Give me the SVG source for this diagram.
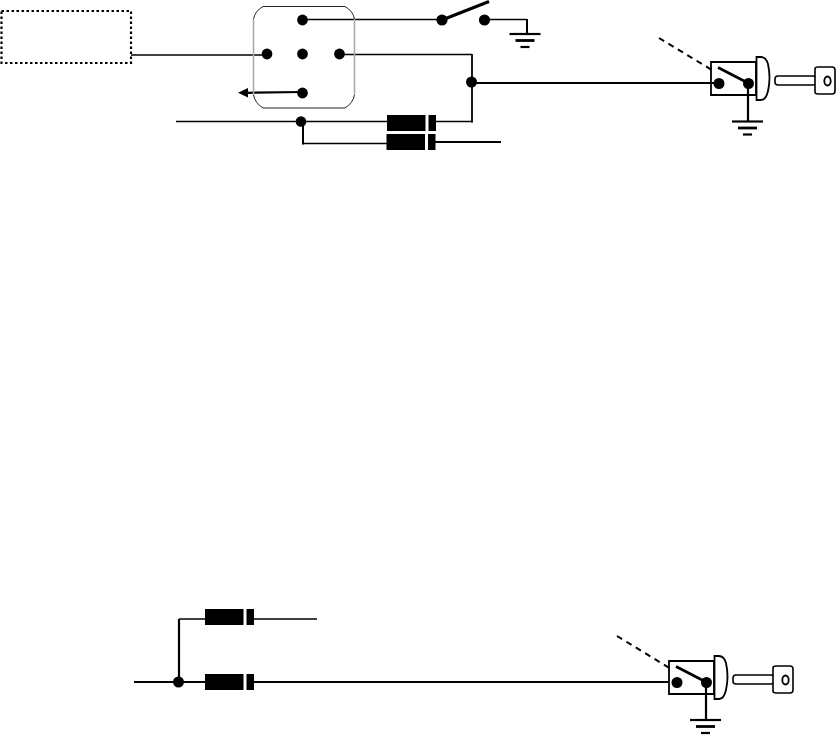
<svg xmlns="http://www.w3.org/2000/svg" width="836" height="735" viewBox="0 0 836 735">
<style>
.w{fill:none;stroke:#000;stroke-width:1.500}
.t{fill:none;stroke:#000;stroke-width:2.200}
.d{fill:#000}
.dash{fill:none;stroke:#000;stroke-width:2;stroke-dasharray:6 5}
.key{fill:#fff;stroke:#000;stroke-width:1.600}
</style>
<defs>
<g id="ground">
<path d="M-15.500 0H15.500" fill="none" stroke="#000" stroke-width="2.200"/>
<path d="M-9.500 6.500H9.500" fill="none" stroke="#000" stroke-width="2.800"/>
<path d="M-4.500 13H4.500" fill="none" stroke="#000" stroke-width="2.200"/>
</g>
<g id="diode">
<rect x="0" y="0" width="49" height="16" fill="#000"/>
<rect x="38.500" y="-0.500" width="3" height="17" fill="#fff"/>
</g>
<g id="lock">
<path d="M0 0H45V33H0Z" fill="none" stroke="#000" stroke-width="1.800"/>
<path d="M7 5.500L37 21" fill="none" stroke="#000" stroke-width="2.600"/>
<circle class="d" cx="8" cy="21.500" r="5.500"/>
<circle class="d" cx="37.500" cy="21.500" r="5.500"/>
<path d="M45.500 -5H50Q55 -5 57 2Q60 16 57 29Q55 38 50 38H45.500Z" fill="#fff" stroke="#000" stroke-width="1.800"/>
<rect class="key" x="64" y="14" width="41" height="9" rx="3"/>
<path class="key" d="M104 7Q104 5 107 5H121Q124 5 124 8V29Q124 32 121 32H107Q104 32 104 30Z"/>
<ellipse cx="116.500" cy="19" rx="3.200" ry="4.500" fill="#fff" stroke="#000" stroke-width="1.800"/>
</g>
</defs>

<g id="connectors">
<path class="w" d="M131 55H267"/>
<path class="w" d="M302 19.500H442"/>
<path class="w" d="M339 54.500H472"/>
<path d="M472 54V122.500" fill="none" stroke="#000" stroke-width="1.800"/>
<path class="w" d="M176 121.500H388"/>
<path class="w" d="M303 143.500H388"/>
<path d="M303 122V144.500" fill="none" stroke="#000" stroke-width="2"/>
<path class="w" d="M435 121.500H472.500"/>
<path class="t" d="M435 142H501" style="stroke-width:1.800"/>
<path class="t" d="M472 83H720"/>
<path class="w" d="M485 19.500H527"/>
<path class="t" d="M527 19V34" style="stroke-width:2"/>
<path d="M442 20L489 1.500" fill="none" stroke="#000" stroke-width="3"/>
<path class="t" d="M302 92L246 92.800"/>
<path class="d" d="M238 92.800L248 88V97.500Z"/>
<path class="t" d="M748 84V121"/>
<path class="dash" d="M659 38L712 70"/>

<path class="t" d="M134 682H668"/>
<path class="t" d="M179 682V619"/>
<path class="w" d="M179 619H206"/>
<path class="w" d="M250 619H317"/>
<path class="t" d="M706 684V719"/>
<path class="dash" d="M617 636L671 669"/>
</g>

<g id="dotted-box">
<rect x="1.500" y="11" width="129.500" height="52" fill="none" stroke="#000" stroke-width="2.200" stroke-dasharray="2.500 2.500"/>
</g>
<g id="relay">
<path d="M253.500 19V95M354.500 19V95" fill="none" stroke="#aaa" stroke-width="1.600"/>
<path d="M253.500 19Q255 11 263 6.500H345Q353 11 354.500 19M354.500 95Q353 103 345 108H263Q255 103 253.500 95" fill="none" stroke="#222" stroke-width="1"/>
<circle class="d" cx="302.500" cy="20" r="5.400"/>
<circle class="d" cx="267" cy="54" r="5.400"/>
<circle class="d" cx="302.500" cy="54" r="5.400"/>
<circle class="d" cx="339.500" cy="54" r="5.400"/>
<circle class="d" cx="302.500" cy="93" r="5.400"/>
</g>
<g id="junction-top-left"><circle class="d" cx="301" cy="121.500" r="5.300"/></g>
<g id="junction-top-right"><circle class="d" cx="471.500" cy="82" r="5.500"/></g>
<g id="switch-top">
<circle class="d" cx="442" cy="20" r="5.600"/>
<circle class="d" cx="484.500" cy="20" r="5.600"/>
</g>
<g id="ground-top"><use href="#ground" x="525" y="34"/></g>
<g id="diode-top-1"><use href="#diode" x="387" y="115"/></g>
<g id="diode-top-2"><use href="#diode" x="386.500" y="134"/></g>
<g id="lock-top"><use href="#lock" x="711" y="62"/></g>
<g id="ground-lock-top"><use href="#ground" x="747.500" y="121.500"/></g>

<g id="junction-bottom"><circle class="d" cx="178.500" cy="682" r="5.500"/></g>
<g id="diode-bottom-1"><use href="#diode" x="205" y="609"/></g>
<g id="diode-bottom-2"><use href="#diode" x="205" y="674"/></g>
<g id="lock-bottom"><use href="#lock" x="669" y="661"/></g>
<g id="ground-lock-bottom"><use href="#ground" x="705.500" y="720"/></g>
</svg>
